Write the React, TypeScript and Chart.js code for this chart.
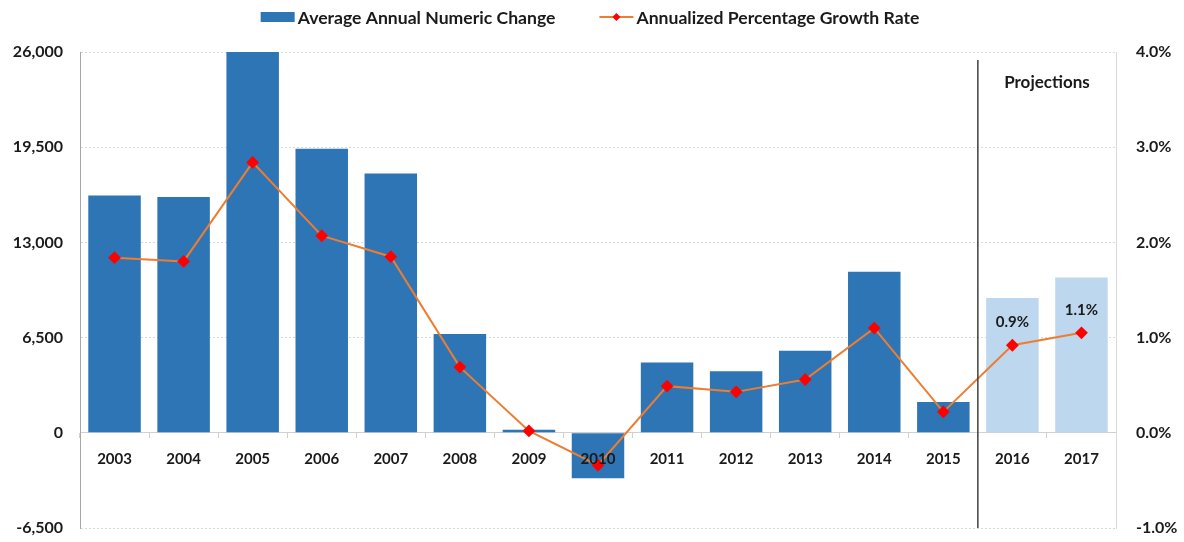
import React, { useEffect, useRef } from "react";
import { Chart, registerables } from "chart.js";

Chart.register(...registerables);

const categories = ["2003", "2004", "2005", "2006", "2007", "2008", "2009", "2010", "2011", "2012", "2013", "2014", "2015", "2016", "2017"];
const numericChange = [16200, 16100, 26000, 19400, 17700, 6750, 200, -3100, 4800, 4200, 5600, 11000, 2100, 9200, 10600];
const growthRate = [1.84, 1.8, 2.84, 2.07, 1.85, 0.69, 0.02, -0.34, 0.49, 0.43, 0.56, 1.1, 0.22, 0.92, 1.05];
const isProjection = [false, false, false, false, false, false, false, false, false, false, false, false, false, true, true];
const pointLabels = ["", "", "", "", "", "", "", "", "", "", "", "", "", "0.9%", "1.1%"];
const leftTicks = [-6500, 0, 6500, 13000, 19500, 26000];
const rightTicks = [-1, 0, 1, 2, 3, 4];
const projectionText = "Projections";

const BAR_COLOR = "#2E75B6";
const PROJ_COLOR = "#BDD7EE";
const LINE_COLOR = "#ED7D31";
const POINT_COLOR = "#FF0000";
const FONT = "Lato, 'Open Sans', sans-serif";

// Custom legend drawn on the canvas from the datasets' labels
const legendPlugin = {
  id: "customLegend",
  afterDraw(chart: any) {
    const { ctx } = chart;
    const ds = chart.data.datasets;
    const iconW = 34;
    const gapIconText = 3;
    const gapItems = 44;
    const cy = 17;
    ctx.save();
    ctx.font = `bold 17.6px ${FONT}`;
    const w0 = ctx.measureText(ds[0].label).width;
    const w1 = ctx.measureText(ds[1].label).width;
    const total = iconW + gapIconText + w0 + gapItems + iconW + gapIconText + w1;
    let x = 590 - total / 2;
    ctx.fillStyle = BAR_COLOR;
    ctx.fillRect(x, cy - 5, iconW, 10);
    x += iconW + gapIconText;
    ctx.fillStyle = "#1a1a1a";
    ctx.textAlign = "left";
    ctx.textBaseline = "middle";
    ctx.fillText(ds[0].label, x, cy + 1);
    x += w0 + gapItems;
    ctx.strokeStyle = LINE_COLOR;
    ctx.lineWidth = 2;
    ctx.beginPath();
    ctx.moveTo(x, cy);
    ctx.lineTo(x + iconW, cy);
    ctx.stroke();
    ctx.fillStyle = POINT_COLOR;
    const mx = x + iconW / 2;
    ctx.beginPath();
    ctx.moveTo(mx, cy - 4);
    ctx.lineTo(mx + 4, cy);
    ctx.lineTo(mx, cy + 4);
    ctx.lineTo(mx - 4, cy);
    ctx.closePath();
    ctx.fill();
    x += iconW + gapIconText;
    ctx.fillStyle = "#1a1a1a";
    ctx.fillText(ds[1].label, x, cy + 1);
    ctx.restore();
  },
};

const overlayPlugin = {
  id: "overlay",
  afterDatasetsDraw(chart: any) {
    const { ctx, chartArea, scales } = chart;
    const x = scales.x;
    const divX = (x.getPixelForValue(12) + x.getPixelForValue(13)) / 2;
    ctx.save();
    ctx.strokeStyle = "#404040";
    ctx.lineWidth = 1.5;
    ctx.beginPath();
    ctx.moveTo(divX, chartArea.top + 8);
    ctx.lineTo(divX, chartArea.bottom);
    ctx.stroke();

    ctx.fillStyle = "#1a1a1a";
    ctx.font = `bold 17px ${FONT}`;
    ctx.textAlign = "center";
    ctx.textBaseline = "middle";
    ctx.fillText(projectionText, (divX + chartArea.right) / 2, chartArea.top + 31);

    const meta = chart.getDatasetMeta(1);
    ctx.font = `bold 15px ${FONT}`;
    meta.data.forEach((pt: any, i: number) => {
      if (pointLabels[i]) {
        ctx.fillText(pointLabels[i], pt.x, pt.y - 23);
      }
    });
    ctx.restore();
  },
};

export default function App() {
  const ref = useRef<HTMLCanvasElement>(null);
  useEffect(() => {
    if (!ref.current) return;
    const chart = new Chart(ref.current, {
      type: "bar",
      data: {
        labels: categories,
        datasets: [
          {
            type: "bar",
            label: "Average Annual Numeric Change",
            data: numericChange,
            backgroundColor: isProjection.map((p) => (p ? PROJ_COLOR : BAR_COLOR)),
            yAxisID: "y",
            order: 2,
            categoryPercentage: 1,
            barPercentage: 0.76,
          },
          {
            type: "line",
            label: "Annualized Percentage Growth Rate",
            data: growthRate,
            borderColor: LINE_COLOR,
            borderWidth: 2,
            pointStyle: "rectRot",
            pointRadius: 5,
            pointBackgroundColor: POINT_COLOR,
            pointBorderColor: POINT_COLOR,
            yAxisID: "y1",
            order: 1,
            tension: 0,
          } as any,
        ],
      },
      options: {
        animation: false,
        responsive: true,
        maintainAspectRatio: false,
        layout: { padding: { top: 52, bottom: 14, left: 0, right: 0 } },
        plugins: {
          tooltip: { enabled: false },
          legend: { display: false },
        },
        scales: {
          x: {
            position: { y: 0 } as any,
            offset: true,
            grid: {
              display: true,
              drawOnChartArea: false,
              drawTicks: true,
              tickLength: 5,
              color: "#d0d0d0",
              offset: true,
            },
            border: { display: true, color: "#d0d0d0" },
            ticks: {
              z: 1,
              color: "#1a1a1a",
              padding: 12,
              font: { family: FONT, size: 15, weight: "bold" },
            },
          } as any,
          y: {
            position: "left",
            min: -6500,
            max: 26000,
            afterBuildTicks: (s: any) => {
              s.ticks = leftTicks.map((v) => ({ value: v }));
            },
            afterFit: (s: any) => {
              s.width = 80;
              s.paddingTop = 8;
              s.paddingBottom = 8;
            },
            grid: { color: "#d9d9d9", drawTicks: false },
            border: { display: true, color: "#a6a6a6", dash: [2, 2] },
            ticks: {
              color: "#1a1a1a",
              padding: 17,
              font: { family: FONT, size: 16, weight: "bold" },
              callback: (v: any) => Number(v).toLocaleString("en-US"),
            },
          },
          y1: {
            position: "right",
            min: -1,
            max: 4,
            afterBuildTicks: (s: any) => {
              s.ticks = rightTicks.map((v) => ({ value: v }));
            },
            afterFit: (s: any) => {
              s.width = 68;
              s.paddingTop = 8;
              s.paddingBottom = 8;
            },
            grid: { display: false, drawOnChartArea: false },
            border: { display: true, color: "#d9d9d9" },
            ticks: {
              color: "#1a1a1a",
              padding: 12,
              font: { family: FONT, size: 16, weight: "bold" },
              callback: (v: any) => Number(v).toFixed(1) + "%",
            },
          },
        },
      },
      plugins: [legendPlugin, overlayPlugin],
    });
    return () => chart.destroy();
  }, []);

  return (
    <div style={{ position: "fixed", left: 0, top: 0, width: 1184, height: 542, background: "#fff" }}>
      <canvas ref={ref} />
    </div>
  );
}
